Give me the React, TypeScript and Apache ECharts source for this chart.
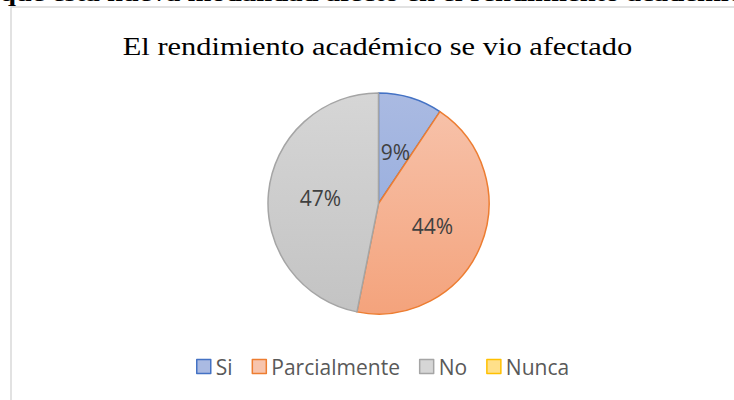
import React, { useEffect, useRef } from "react";
import * as echarts from "echarts";

const categories = ["Si", "Parcialmente", "No", "Nunca"];
const counts = [3, 14, 15, 0];
const chartTitle = "El rendimiento académico se vio afectado";
const pageHeading = "que esta nueva modalidad afectó en el rendimiento académico";

const fillTop = ["#aabae2", "#f7c4ad", "#d6d6d6", "#ffe08a"];
const fillBottom = ["#8da7db", "#f4a37c", "#c3c3c3", "#ffd257"];
const borders = ["#4472c4", "#ed7d31", "#a5a5a5", "#ffc000"];

export default function App() {
  const ref = useRef<HTMLDivElement>(null);
  useEffect(() => {
    document.body.style.margin = "0";
    const chart = echarts.init(ref.current!, null, { renderer: "svg" });
    const grad = (i: number) =>
      new echarts.graphic.LinearGradient(0, 93, 0, 314, [
        { offset: 0, color: fillTop[i] },
        { offset: 1, color: fillBottom[i] },
      ], true);
    chart.setOption({
      animation: false,
      backgroundColor: "#ffffff",
      graphic: [
        {
          type: "rect",
          shape: { x: 11, y: 7, width: 760, height: 420 },
          style: { fill: "#ffffff", stroke: "#d9d9d9", lineWidth: 1.5 },
          z: -10,
        },
        {
          type: "text",
          x: 0,
          y: -18,
          scaleX: 1.25,
          style: {
            text: pageHeading,
            font: "bold 23px 'Liberation Serif'",
            fill: "#000000",
            verticalAlign: "top",
          },
        },
        {
          type: "text",
          x: 377.5,
          y: 34,
          scaleX: 1.218,
          style: {
            text: chartTitle,
            font: "25px 'Liberation Serif'",
            fill: "#000000",
            align: "center",
            verticalAlign: "top",
          },
        },
      ],
      legend: {
        left: 196,
        top: 356,
        padding: 0,
        icon: "rect",
        itemWidth: 14,
        itemHeight: 14,
        itemGap: 19,
        textStyle: { fontFamily: "Open Sans", fontSize: 21, color: "#595959" },
        data: categories.map((c, i) => ({
          name: c,
          itemStyle: { color: fillTop[i], borderColor: borders[i], borderWidth: 1.5 },
        })),
      },
      series: [
        {
          type: "pie",
          center: [378.5, 203.5],
          radius: [0, 110.5],
          startAngle: 90,
          clockwise: true,
          avoidLabelOverlap: false,
          label: {
            show: true,
            position: "inside",
            fontFamily: "Open Sans",
            fontSize: 21,
            color: "#404040",
            formatter: (p: any) => (p.value > 0 ? Math.round(p.percent) + "%" : ""),
          },
          labelLine: { show: false },
          emphasis: { disabled: true },
          data: categories.map((c, i) => ({
            name: c,
            value: counts[i],
            label: i === 0 ? { offset: [0, 4] } : undefined,
            itemStyle: {
              color: grad(i),
              borderColor: borders[i],
              borderWidth: counts[i] > 0 ? 1.5 : 0,
            },
          })),
        },
      ],
    });
    return () => chart.dispose();
  }, []);
  return <div ref={ref} style={{ width: 734, height: 400 }} />;
}
